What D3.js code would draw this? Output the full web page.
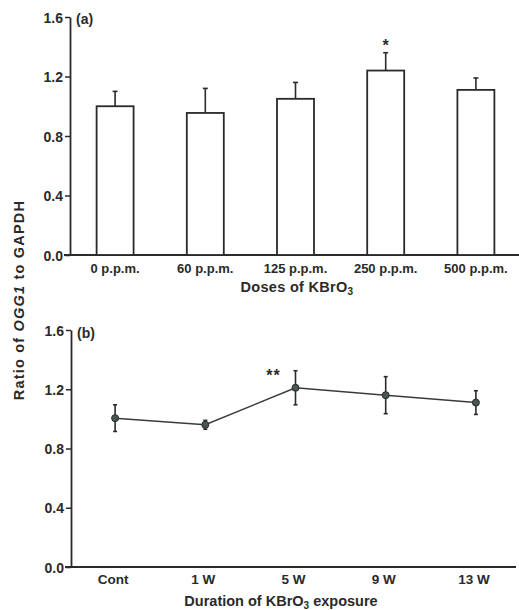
<!DOCTYPE html>
<html>
<head>
<meta charset="utf-8">
<script src="https://cdn.jsdelivr.net/npm/d3@7"></script>
<style>
  body { margin: 0; background: #fff; }
  text { font-family: "Liberation Sans", Arial, sans-serif; fill: #2a2a2a; }
</style>
</head>
<body>
<script>
"use strict"

// panel (a): doses
const doses     = ["0 p.p.m.", "60 p.p.m.", "125 p.p.m.", "250 p.p.m.", "500 p.p.m."]
const doseMeans = [1.00, 0.955, 1.05, 1.24, 1.11]
const doseErr   = [0.10, 0.165, 0.11, 0.12, 0.08]
const doseSig   = ["", "", "", "*", ""]

// panel (b): duration
const weeks     = ["Cont", "1 W", "5 W", "9 W", "13 W"]
const weekMeans = [1.005, 0.96, 1.21, 1.16, 1.11]
const weekErr   = [0.09, 0.03, 0.115, 0.125, 0.08]
const weekSig   = ["", "", "**", "", ""]

const yTicks = [0.0, 0.4, 0.8, 1.2, 1.6]

const W = 519, H = 610
const ink = "#2a2a2a"

const svg = d3.select("body").append("svg")
  .attr("width", W)
  .attr("height", H)

const x = d3.scaleBand().domain(d3.range(5)).range([70, 521]).paddingInner(0.59).paddingOuter(0.295)
const cx = i => x(i) + x.bandwidth() / 2

const yAxisFor = (g, y) => {
  const ax = d3.axisLeft(y).tickValues(yTicks).tickFormat(d3.format(".1f")).tickSize(5).tickSizeOuter(0)
  g.call(ax)
  g.select(".domain").attr("stroke", ink).attr("stroke-width", 1.8)
  g.selectAll(".tick line").attr("stroke", ink).attr("stroke-width", 1.5)
  g.selectAll(".tick text").attr("x", -7).attr("dy", "0.36em")
    .style("font-size", "14px").style("font-weight", "bold").attr("fill", ink)
}

// ---------- panel (a) ----------
const ya = d3.scaleLinear().domain([0, 1.6]).range([255, 17])
const ga = svg.append("g")

ga.append("g").attr("transform", "translate(70,0)").call(g => yAxisFor(g, ya))
ga.append("line").attr("x1", 64).attr("x2", 521).attr("y1", ya(0)).attr("y2", ya(0))
  .attr("stroke", ink).attr("stroke-width", 1.8)

const bars = ga.selectAll(".bar").data(doseMeans).enter().append("g").attr("class", "bar")
bars.append("line")
  .attr("x1", (d, i) => cx(i))
  .attr("x2", (d, i) => cx(i))
  .attr("y1", d => ya(d))
  .attr("y2", (d, i) => ya(d + doseErr[i]))
  .attr("stroke", ink).attr("stroke-width", 1.6)
bars.append("line")
  .attr("x1", (d, i) => cx(i) - 2.5)
  .attr("x2", (d, i) => cx(i) + 2.5)
  .attr("y1", (d, i) => ya(d + doseErr[i]))
  .attr("y2", (d, i) => ya(d + doseErr[i]))
  .attr("stroke", ink).attr("stroke-width", 1.6)
bars.append("rect")
  .attr("x", (d, i) => x(i))
  .attr("width", x.bandwidth())
  .attr("y", d => ya(d))
  .attr("height", d => ya(0) - ya(d))
  .attr("fill", "#fff").attr("stroke", ink).attr("stroke-width", 1.8)
bars.append("text")
  .attr("x", (d, i) => cx(i))
  .attr("y", (d, i) => ya(d + doseErr[i]) - 2)
  .attr("text-anchor", "middle")
  .style("font-size", "16px").style("font-weight", "bold")
  .text((d, i) => doseSig[i])

ga.selectAll(".xl").data(doses).enter().append("text")
  .attr("x", (d, i) => cx(i))
  .attr("y", 273)
  .attr("text-anchor", "middle")
  .style("font-size", "13px").style("font-weight", "bold")
  .text(d => d)

const ta = ga.append("text").attr("x", 297).attr("y", 292).attr("text-anchor", "middle")
  .style("font-size", "14.5px").style("font-weight", "bold").style("letter-spacing", "0.3px")
ta.append("tspan").text("Doses of KBrO")
ta.append("tspan").attr("dy", 3).style("font-size", "10px").text("3")

ga.append("text").attr("x", 76).attr("y", 24).style("font-size", "14px").style("font-weight", "bold").text("(a)")

// ---------- panel (b) ----------
const yb = d3.scaleLinear().domain([0, 1.6]).range([567, 330])
const gb = svg.append("g")

gb.append("g").attr("transform", "translate(71,0)").call(g => yAxisFor(g, yb))
gb.append("line").attr("x1", 65).attr("x2", 516).attr("y1", yb(0)).attr("y2", yb(0))
  .attr("stroke", ink).attr("stroke-width", 1.8)

gb.append("path")
  .datum(weekMeans)
  .attr("d", d3.line().x((d, i) => cx(i)).y(d => yb(d)))
  .attr("fill", "none").attr("stroke", "#3a3a3a").attr("stroke-width", 1.5)

const pts = gb.selectAll(".pt").data(weekMeans).enter().append("g").attr("class", "pt")
pts.append("line")
  .attr("x1", (d, i) => cx(i)).attr("x2", (d, i) => cx(i))
  .attr("y1", (d, i) => yb(d - weekErr[i]))
  .attr("y2", (d, i) => yb(d + weekErr[i]))
  .attr("stroke", ink).attr("stroke-width", 1.6)
pts.selectAll(".cap").data((d, i) => [d - weekErr[i], d + weekErr[i]].map(v => ({ v, i })))
  .enter().append("line")
  .attr("x1", d => cx(d.i) - 2).attr("x2", d => cx(d.i) + 2)
  .attr("y1", d => yb(d.v)).attr("y2", d => yb(d.v))
  .attr("stroke", ink).attr("stroke-width", 1.6)
pts.append("circle")
  .attr("cx", (d, i) => cx(i)).attr("cy", d => yb(d)).attr("r", 3.5)
  .attr("fill", "#4a5552").attr("stroke", ink).attr("stroke-width", 1)
pts.append("text")
  .attr("x", (d, i) => cx(i) - 22)
  .attr("y", (d, i) => yb(d + weekErr[i]) + 10)
  .attr("text-anchor", "middle")
  .style("font-size", "16px").style("font-weight", "bold").style("letter-spacing", "1px")
  .text((d, i) => weekSig[i])

gb.selectAll(".xl").data(weeks).enter().append("text")
  .attr("x", (d, i) => cx(i) - 2)
  .attr("y", 584)
  .attr("text-anchor", "middle")
  .style("font-size", "13.5px").style("font-weight", "bold")
  .text(d => d)

const tb = gb.append("text").attr("x", 281).attr("y", 606).attr("text-anchor", "middle")
  .style("font-size", "14.5px").style("font-weight", "bold")
tb.append("tspan").text("Duration of KBrO")
tb.append("tspan").attr("dy", 3).style("font-size", "10px").text("3")
tb.append("tspan").attr("dy", -3).text(" exposure")

gb.append("text").attr("x", 77).attr("y", 338).style("font-size", "14px").style("font-weight", "bold").text("(b)")

// shared y label
const yl = svg.append("text")
  .attr("transform", "translate(24,300) rotate(-90)")
  .attr("text-anchor", "middle")
  .style("font-size", "14.5px").style("font-weight", "bold").style("letter-spacing", "1.2px")
yl.append("tspan").text("Ratio of ")
yl.append("tspan").style("font-style", "italic").text("OGG1")
yl.append("tspan").text(" to GAPDH")
</script>
</body>
</html>
